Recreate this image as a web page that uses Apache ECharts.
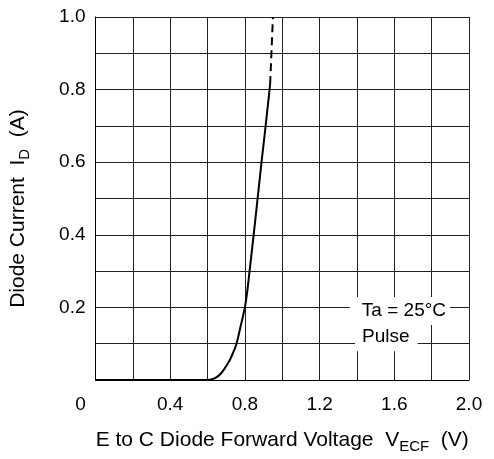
<!DOCTYPE html>
<html>
<head>
<meta charset="utf-8">
<script src="https://cdn.jsdelivr.net/npm/echarts@6/dist/echarts.min.js"></script>
<style>
  html, body { margin: 0; padding: 0; background: #fff; }
  #main { width: 494px; height: 459px; }
</style>
</head>
<body>
<div id="main"></div>
<script>
  // 数据：正向压降 V (V) 与二极管电流 I (A)
  var solidV = [0, 0.60, 0.64, 0.675, 0.714, 0.735, 0.755, 0.778, 0.80, 0.814, 0.825, 0.847, 0.868, 0.889, 0.911, 0.932, 0.935];
  var solidI = [0, 0, 0.005, 0.02, 0.05, 0.073, 0.1, 0.15, 0.2, 0.25, 0.3, 0.4, 0.5, 0.6, 0.7, 0.8, 0.815];
  var dashV = [0.935, 0.942, 0.95];
  var dashI = [0.815, 0.9, 1.0];
  var xTicks = [0, 0.4, 0.8, 1.2, 1.6, 2.0];
  var yTicks = [0.2, 0.4, 0.6, 0.8, 1.0];

  var FONT = '"Liberation Sans", Arial, sans-serif';

  function pairs(xs, ys) {
    var out = [];
    for (var i = 0; i < xs.length; i++) out.push([xs[i], ys[i]]);
    return out;
  }
  function inTicks(list, v) {
    for (var i = 0; i < list.length; i++) {
      if (Math.abs(list[i] - v) < 1e-6) return true;
    }
    return false;
  }

  var myChart = echarts.init(document.getElementById('main'));

  myChart.setOption({
    animation: false,
    grid: { left: 95.5, right: 25, top: 17, bottom: 68.3, containLabel: false },
    xAxis: {
      type: 'value',
      min: 0,
      max: 2.0,
      interval: 0.2,
      name: 'E to C Diode Forward Voltage  V{sub|ECF}  (V)',
      nameLocation: 'middle',
      nameGap: 46,
      nameTextStyle: {
        color: '#000', fontSize: 21, fontFamily: FONT,
        rich: { sub: { fontSize: 15, fontFamily: FONT, color: '#000', padding: [13, 0, 0, 0] } }
      },
      axisLine: { show: true, onZero: false, lineStyle: { color: '#000', width: 1 } },
      axisTick: { show: false },
      splitLine: { show: true, lineStyle: { color: '#222', width: 1 } },
      axisLabel: {
        margin: 15,
        color: '#000',
        fontSize: 19,
        fontFamily: FONT,
        formatter: function (v) {
          if (!inTicks(xTicks, v)) return '';
          if (v === 0) return '{z|0}';
          return v.toFixed(1);
        },
        rich: { z: { fontSize: 19, fontFamily: FONT, color: '#000', padding: [0, 30, 0, 0] } }
      }
    },
    yAxis: {
      type: 'value',
      min: 0,
      max: 1.0,
      interval: 0.1,
      name: 'Diode Current  I{sub|D}  (A)',
      nameLocation: 'middle',
      nameGap: 63,
      nameTextStyle: {
        color: '#000', fontSize: 21, fontFamily: FONT,
        padding: [0, 20, 0, 0],
        rich: { sub: { fontSize: 15, fontFamily: FONT, color: '#000', padding: [13, 0, 0, 0] } }
      },
      axisLine: { show: true, onZero: false, lineStyle: { color: '#000', width: 1 } },
      axisTick: { show: false },
      splitLine: { show: true, lineStyle: { color: '#222', width: 1 } },
      axisLabel: {
        margin: 10,
        color: '#000',
        fontSize: 19,
        fontFamily: FONT,
        formatter: function (v) {
          return inTicks(yTicks, v) ? v.toFixed(1) : '';
        }
      }
    },
    series: [{
      name: 'solid',
      type: 'line',
      data: pairs(solidV, solidI),
      smooth: 0.25,
      showSymbol: false,
      lineStyle: { color: '#000', width: 2 },
      z: 5
    }, {
      name: 'dash',
      type: 'line',
      data: pairs(dashV, dashI),
      showSymbol: false,
      lineStyle: { color: '#000', width: 2, type: [8, 5] },
      z: 5
    }]
  });

  // 标注文字，位置由数据坐标换算
  var pTa = myChart.convertToPixel({ gridIndex: 0 }, [1.362, 0.19]);
  var pPulse = myChart.convertToPixel({ gridIndex: 0 }, [1.39, 0.118]);
  myChart.setOption({
    graphic: [{
      type: 'text',
      x: pTa[0],
      y: pTa[1],
      z: 10,
      style: {
        text: 'Ta = 25°C',
        fill: '#000',
        font: '19px ' + FONT,
        verticalAlign: 'middle',
        align: 'left',
        backgroundColor: '#fff',
        padding: [5, 4, 4, 12]
      }
    }, {
      type: 'text',
      x: pPulse[0],
      y: pPulse[1],
      z: 9,
      style: {
        text: 'Pulse',
        fill: '#000',
        font: '19px ' + FONT,
        verticalAlign: 'middle',
        align: 'left',
        backgroundColor: '#fff',
        padding: [4, 8, 5, 7]
      }
    }]
  });
</script>
</body>
</html>
